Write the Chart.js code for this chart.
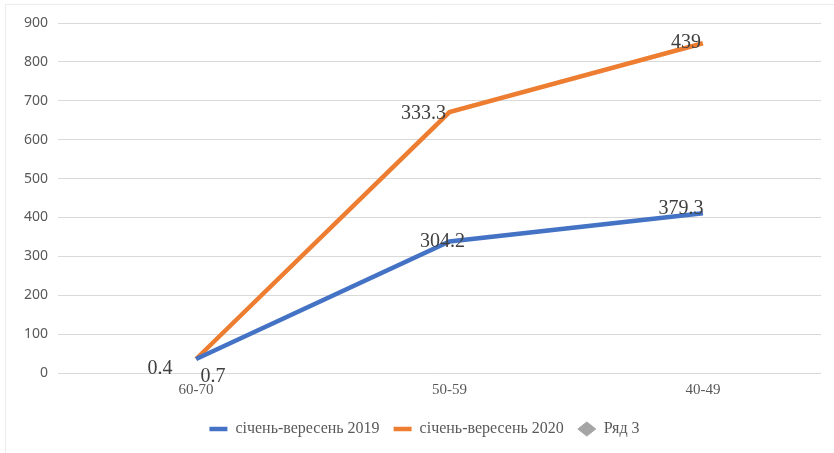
<!DOCTYPE html>
<html>
<head>
<meta charset="utf-8">
<script src="https://cdn.jsdelivr.net/npm/chart.js@4"></script>
<style>
  html, body { margin: 0; padding: 0; background: #fff; }
  .wrap { position: relative; width: 834px; height: 453px; }
  .frame { position: absolute; left: 5px; top: 4px; right: 0; bottom: 0;
           border-top: 1px solid #ececec; border-left: 1px solid #ececec; }
  canvas { position: absolute; left: 0; top: 0; }
</style>
</head>
<body>
<div class="wrap">
  <div class="frame"></div>
  <canvas id="chart" width="834" height="453"></canvas>
</div>
<script>
const categories = ['60-70', '50-59', '40-49'];
const values2019 = [36, 338, 411];
const values2020 = [36, 671, 848];
const labels2019 = ['0.4', '304.2', '379.3'];
const labels2020 = ['0.7', '333.3', '439'];
const seriesNames = ['січень-вересень 2019', 'січень-вересень 2020', 'Ряд 3'];
const yTicks = [0, 100, 200, 300, 400, 500, 600, 700, 800, 900];

const toPoints = vals => vals.map((v, i) => ({ x: i, y: v }));

// draws the text labels next to each point (offsets in px)
const pointLabels = {
  id: 'pointLabels',
  afterLayout(chart) {
    // legend sits a bit right of centre in the original
    chart.legend.left += 14;
    chart.legend.right += 14;
  },
  afterDatasetsDraw(chart, args, opts) {
    const ctx = chart.ctx;
    ctx.save();
    ctx.font = '20px "Liberation Serif", "Times New Roman", serif';
    ctx.fillStyle = '#404040';
    ctx.textAlign = 'center';
    ctx.textBaseline = 'middle';
    opts.sets.forEach(set => {
      const meta = chart.getDatasetMeta(set.index);
      meta.data.forEach((pt, i) => {
        const off = set.offsets[i];
        ctx.fillText(set.texts[i], pt.x + off[0], pt.y + off[1]);
      });
    });
    ctx.restore();
  }
};

new Chart(document.getElementById('chart'), {
  type: 'line',
  data: {
    datasets: [
      {
        label: seriesNames[0],
        data: toPoints(values2019),
        borderColor: '#4472C4',
        backgroundColor: '#4472C4',
        borderWidth: 4.5,
        pointRadius: 0,
        pointStyle: 'line',
      },
      {
        label: seriesNames[1],
        data: toPoints(values2020),
        borderColor: '#ED7D31',
        backgroundColor: '#ED7D31',
        borderWidth: 4.5,
        pointRadius: 0,
        pointStyle: 'line',
      },
      {
        label: seriesNames[2],
        data: [],
        borderColor: '#A5A5A5',
        backgroundColor: '#A5A5A5',
        borderWidth: 1,
        pointRadius: 0,
        pointStyle: 'rectRot',
      },
    ],
  },
  options: {
    responsive: false,
    animation: false,
    layout: { padding: { top: 23, right: 13, left: 0, bottom: 6 } },
    scales: {
      x: {
        type: 'linear',
        min: -0.545,
        max: 2.466,
        grid: { display: false },
        border: { display: false },
        afterBuildTicks: s => { s.ticks = categories.map((c, i) => ({ value: i })); },
        ticks: {
          autoSkip: false,
          maxRotation: 0,
          padding: 0,
          color: '#595959',
          font: { family: '"Liberation Serif", "Times New Roman", serif', size: 15 },
          callback: v => categories[v],
        },
        afterFit: s => { s.height = 34; },
      },
      y: {
        min: 0,
        max: 900,
        afterBuildTicks: s => { s.ticks = yTicks.map(v => ({ value: v })); },
        grid: { color: '#d9d9d9', lineWidth: 1, drawTicks: false },
        border: { display: false },
        ticks: {
          padding: 10,
          color: '#595959',
          font: { family: '"Noto Sans", sans-serif', size: 14 },
        },
        afterFit: s => { s.width = 58; },
      },
    },
    plugins: {
      legend: {
        position: 'bottom',
        labels: {
          usePointStyle: true,
          pointStyleWidth: 18,
          boxHeight: 10,
          padding: 14,
          color: '#595959',
          font: { family: '"Liberation Serif", "Times New Roman", serif', size: 16 },
        },
      },
      tooltip: { enabled: false },
      pointLabels: {
        sets: [
          { index: 0, texts: labels2019, offsets: [[-36, 10], [-7, 0], [-22, -4]] },
          { index: 1, texts: labels2020, offsets: [[17, 18], [-26, 2], [-17, 0]] },
        ],
      },
    },
  },
  plugins: [pointLabels],
});
</script>
</body>
</html>
